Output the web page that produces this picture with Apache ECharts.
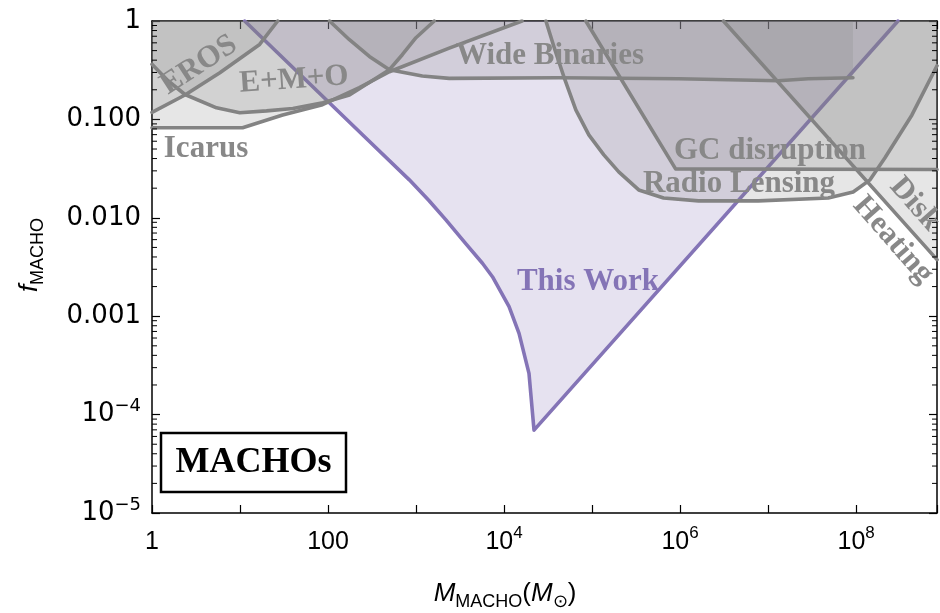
<!DOCTYPE html>
<html><head><meta charset="utf-8">
<script src="https://cdn.jsdelivr.net/npm/echarts@6/dist/echarts.min.js"></script>
<style>html,body{margin:0;padding:0;background:#fff}#c{width:940px;height:613px}</style>
</head><body><div id="c"></div>
<script>
// ---- axis extents and tick labels ----
const xExtent = [1, 8.3e8];
const yExtent = [1e-5, 1];
const xTickLabels = ['1', '', '100', '', '10^4', '', '10^6', '', '10^8'];   // index = exponent
const yTickLabels = {'-5': '10^\u22125', '-4': '10^\u22124', '-3': '0.001', '-2': '0.010', '-1': '0.100', '0': '1'};
const yMinorMantissas = [2, 3, 4, 5, 6, 7, 8, 9];
const yMinorDecades = [1e-5, 1e-4, 1e-3, 1e-2, 1e-1];

// ---- constraint curves (region above each curve is excluded) ----
const thisWorkM = [11.3, 28.2, 91, 271, 839, 1400, 2185, 3610, 5680, 7380, 11400, 14800, 19200, 21900, 2.99e8];
const thisWorkF = [1, 0.454, 0.165, 0.0644, 0.0243, 0.0150, 0.00952, 0.00556, 0.00345, 0.00252, 0.00125, 6.7e-4, 2.62e-4, 6.95e-5, 1];

const erosM = [1, 2.37, 5.9, 16.7, 26.8];
const erosF = [0.118, 0.177, 0.298, 0.578, 1];

const emoM = [1, 1.52, 2.37, 5.41, 9.94, 20, 39.9, 87.3, 175, 498, 698, 998, 1610];
const emoF = [0.364, 0.247, 0.179, 0.131, 0.117, 0.122, 0.129, 0.1475, 0.177, 0.32, 0.454, 0.676, 1];

const icarusM = [1, 10.7, 30.5, 86.6, 227, 498, 2380, 16000];
const icarusF = [0.0822, 0.0822, 0.111, 0.141, 0.21, 0.305, 0.531, 1];

const wideBinM = [104, 175, 295, 498, 1178, 2380, 42000, 9.6e5, 1.31e7, 2.86e7, 9.2e7];
const wideBinF = [1, 0.645, 0.436, 0.32, 0.276, 0.261, 0.265, 0.259, 0.247, 0.259, 0.265];

const radioM = [29900, 37800, 49100, 65400, 91900, 1.36e5, 2.01e5, 3.39e5, 6.5e5, 1.62e6, 7.76e6, 4.82e7, 9.25e7, 1.44e8, 2.13e8, 4.31e8, 8.3e8];
const radioF = [1, 0.511, 0.253, 0.125, 0.0697, 0.0436, 0.0293, 0.0192, 0.0159, 0.01485, 0.01485, 0.0159, 0.0183, 0.0243, 0.0407, 0.111, 0.351];

const gcM = [84900, 8.89e5, 8.3e8];
const gcF = [1, 0.0314, 0.031];

const diskM = [3.11e6, 8.3e8];
const diskF = [1, 0.00376];

// ---- styles ----
const GRAY_LINE = '#838383';
const GRAY_FILL = 'rgba(128,128,128,0.2)';
const PURPLE = '#8474b6';
const PURPLE_FILL = 'rgba(135,120,185,0.21)';
const LABEL_GRAY = '#888888';
const SERIF = '"Liberation Serif","Times New Roman",serif';
const SANS = '"Liberation Sans",Arial,Helvetica,sans-serif';
const WIDE_SANS = '"DejaVu Sans",Verdana,sans-serif';

const zip = (a, b) => a.map((v, i) => [v, b[i]]);

function region(name, M, F, lineColor, fillColor, z) {
  return {
    name, type: 'line', data: zip(M, F), symbol: 'none', smooth: false,
    clip: true, z: z,
    lineStyle: {color: lineColor, width: 3.6, join: 'round', cap: 'round'},
    areaStyle: {color: fillColor, origin: 'end', opacity: 1},
    silent: true
  };
}

function fmtRich(t, big) {
  if (!t) return '';
  const nk = big ? 'N' : 'n', sk = big ? 'S' : 's';
  if (t.indexOf('^') >= 0) {
    const p = t.split('^');
    return '{' + nk + '|' + p[0] + '}{' + sk + '|' + p[1] + '}';
  }
  return '{' + nk + '|' + t + '}';
}
const labelRich = {
  n: {fontSize: 25, fontFamily: SANS, color: '#000', lineHeight: 34},
  s: {fontSize: 17, fontFamily: SANS, color: '#000', lineHeight: 17, verticalAlign: 'top'},
  N: {fontSize: 26, fontFamily: WIDE_SANS, color: '#000', lineHeight: 34},
  S: {fontSize: 18, fontFamily: WIDE_SANS, color: '#000', lineHeight: 17, verticalAlign: 'top'}
};

const minorTicks = [];
yMinorDecades.forEach(d => yMinorMantissas.forEach(m => minorTicks.push([xExtent[0], m * d])));

const chart = echarts.init(document.getElementById('c'), null, {renderer: 'canvas'});

const axisCommon = {
  type: 'log', logBase: 10,
  axisLine: {show: true, onZero: false, lineStyle: {color: '#000', width: 1.5}},
  axisTick: {show: true, inside: true, length: 8, lineStyle: {color: '#000', width: 1.2}},
  splitLine: {show: false}
};

const option = {
  animation: false,
  backgroundColor: '#fff',
  grid: {left: 152, right: 1, top: 21, bottom: 100, containLabel: false},
  xAxis: [
    Object.assign({}, axisCommon, {
      position: 'bottom', min: xExtent[0], max: xExtent[1],
      axisLabel: {
        margin: 12,
        formatter: v => {
          const e = Math.log10(v);
          if (Math.abs(e - Math.round(e)) > 1e-6) return '';
          return fmtRich(xTickLabels[Math.round(e)], false);
        },
        rich: labelRich
      }
    }),
    Object.assign({}, axisCommon, {
      position: 'top', min: xExtent[0], max: xExtent[1], axisLabel: {show: false}
    })
  ],
  yAxis: [
    Object.assign({}, axisCommon, {
      position: 'left', min: yExtent[0], max: yExtent[1],
      axisLabel: {
        margin: 11,
        formatter: v => fmtRich(yTickLabels[String(Math.round(Math.log10(v)))], true),
        rich: labelRich
      }
    }),
    Object.assign({}, axisCommon, {
      position: 'right', min: yExtent[0], max: yExtent[1], axisLabel: {show: false}
    })
  ],
  series: [
    region('This Work', thisWorkM, thisWorkF, PURPLE, PURPLE_FILL, 2),
    region('Icarus', icarusM, icarusF, GRAY_LINE, GRAY_FILL, 3),
    region('E+M+O', emoM, emoF, GRAY_LINE, GRAY_FILL, 3),
    region('EROS', erosM, erosF, GRAY_LINE, GRAY_FILL, 3),
    region('Wide Binaries', wideBinM, wideBinF, GRAY_LINE, GRAY_FILL, 3),
    region('Radio Lensing', radioM, radioF, GRAY_LINE, GRAY_FILL, 3),
    region('GC disruption', gcM, gcF, GRAY_LINE, GRAY_FILL, 3),
    region('Disk Heating', diskM, diskF, GRAY_LINE, GRAY_FILL, 3),
    {
      type: 'custom', name: 'minorTicks', data: minorTicks, silent: true, z: 10,
      encode: {x: 0, y: 1}, clip: false,
      renderItem: (params, api) => {
        const v = api.value(1);
        const pl = api.coord([xExtent[0], v]);
        const pr = api.coord([xExtent[1], v]);
        const st = {stroke: '#000', lineWidth: 1};
        return {type: 'group', children: [
          {type: 'line', shape: {x1: pl[0], y1: pl[1], x2: pl[0] + 5, y2: pl[1]}, style: st},
          {type: 'line', shape: {x1: pr[0], y1: pr[1], x2: pr[0] - 5, y2: pr[1]}, style: st}
        ]};
      }
    }
  ],
  graphic: [
    {type: 'text', x: 199, y: 65, rotation: 0.58, z: 20, style: {text: 'EROS', font: 'bold 31px ' + SERIF, fill: LABEL_GRAY, align: 'center', verticalAlign: 'middle'}},
    {type: 'text', x: 294, y: 80, rotation: 0.07, z: 20, style: {text: 'E+M+O', font: 'bold 31px ' + SERIF, fill: LABEL_GRAY, align: 'center', verticalAlign: 'middle'}},
    {type: 'text', x: 206, y: 149, z: 20, style: {text: 'Icarus', font: 'bold 31px ' + SERIF, fill: LABEL_GRAY, align: 'center', verticalAlign: 'middle'}},
    {type: 'text', x: 550, y: 56, z: 20, style: {text: 'Wide Binaries', font: 'bold 31px ' + SERIF, fill: LABEL_GRAY, align: 'center', verticalAlign: 'middle'}},
    {type: 'text', x: 770, y: 151, z: 20, style: {text: 'GC disruption', font: 'bold 31px ' + SERIF, fill: LABEL_GRAY, align: 'center', verticalAlign: 'middle'}},
    {type: 'text', x: 739, y: 184, z: 20, style: {text: 'Radio Lensing', font: 'bold 31px ' + SERIF, fill: LABEL_GRAY, align: 'center', verticalAlign: 'middle'}},
    {type: 'text', x: 588, y: 282, z: 20, style: {text: 'This Work', font: 'bold 31px ' + SERIF, fill: PURPLE, align: 'center', verticalAlign: 'middle'}},
    {type: 'text', x: 915, y: 204, rotation: -0.85, z: 20, style: {text: 'Disk', font: 'bold 31px ' + SERIF, fill: LABEL_GRAY, align: 'center', verticalAlign: 'middle'}},
    {type: 'text', x: 893, y: 240, rotation: -0.85, z: 20, style: {text: 'Heating', font: 'bold 31px ' + SERIF, fill: LABEL_GRAY, align: 'center', verticalAlign: 'middle'}},
    {type: 'rect', z: 20, shape: {x: 161, y: 433, width: 185, height: 59}, style: {fill: '#fff', stroke: '#000', lineWidth: 2.5}},
    {type: 'text', x: 253.5, y: 463, z: 21, style: {text: 'MACHOs', font: 'bold 36px ' + SERIF, fill: '#000', align: 'center', verticalAlign: 'middle'}},
    {type: 'text', x: 505, y: 594, z: 20, style: {
      text: '{i|M}{s|MACHO}{n|(}{i|M}{s|\u2299}{n|)}', align: 'center', verticalAlign: 'middle',
      rich: {
        i: {fontSize: 26, fontStyle: 'italic', fontFamily: SANS, fill: '#000', lineHeight: 34},
        n: {fontSize: 26, fontFamily: SANS, fill: '#000', lineHeight: 34},
        s: {fontSize: 18, fontFamily: SANS, fill: '#000', lineHeight: 16, verticalAlign: 'bottom'}
      }}},
    {type: 'text', x: 30, y: 255, rotation: Math.PI / 2, z: 20, style: {
      text: '{i|f}{s|MACHO}', align: 'center', verticalAlign: 'middle',
      rich: {
        i: {fontSize: 26, fontStyle: 'italic', fontFamily: SANS, fill: '#000', lineHeight: 34},
        s: {fontSize: 18, fontFamily: SANS, fill: '#000', lineHeight: 16, verticalAlign: 'bottom'}
      }}}
  ]
};
chart.setOption(option);
</script></body></html>
